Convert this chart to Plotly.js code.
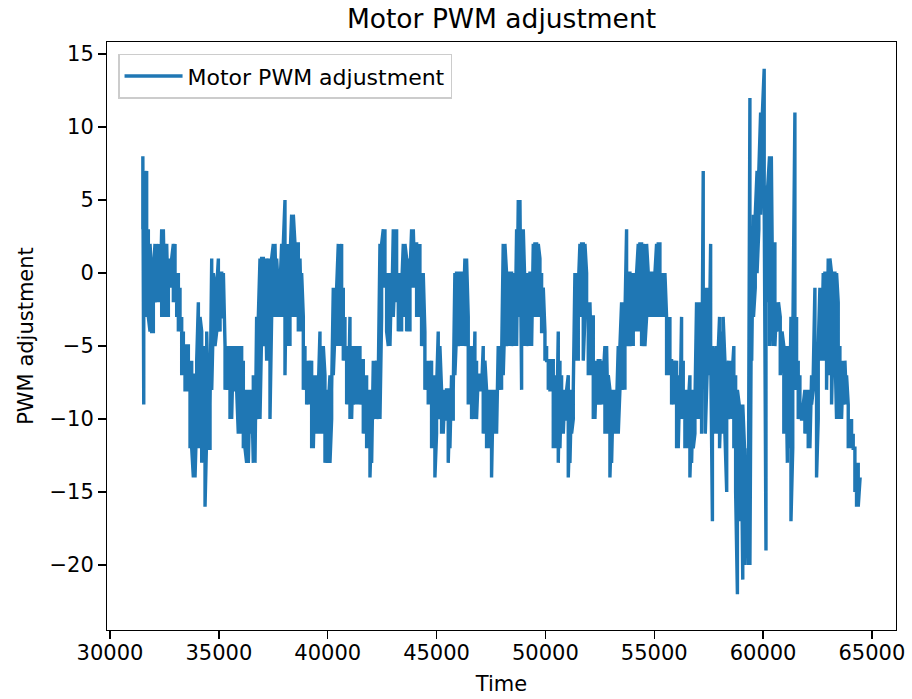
<!DOCTYPE html>
<html>
<head>
<meta charset="utf-8">
<script src="https://cdn.plot.ly/plotly-3.0.1.min.js"></script>
<style>html,body{margin:0;padding:0;background:#fff;}#chart{width:912px;height:699px;}</style>
</head>
<body>
<div id="chart"></div>
<script>
// Sample times (each time carries two consecutive readings)
const bucketTime = [
31509,31550,31608,31684,31761,31838,31914,31991,32067,32144,32221,32297,32374,32450,32527,32604,32680,32757,32833,32910,
32987,33063,33140,33216,33293,33370,33446,33523,33599,33676,33753,33829,33906,33982,34059,34136,34212,34289,34365,34442,
34519,34595,34672,34748,34825,34902,34978,35055,35131,35208,35285,35361,35438,
35512,35588,35665,35741,35818,35894,35971,36048,36124,36201,36277,36354,36430,36507,36583,36660,36736,36813,36890,36966,
37043,37119,37196,37272,37349,37425,37502,37579,37655,37732,37808,37885,37961,38038,38114,38191,38267,38344,38421,38497,
38574,38650,38727,38803,38880,38956,39033,39110,39186,39263,39339,39416,39492,39569,39645,39722,39798,
39875,39951,40028,40104,40181,40257,40334,40411,40487,40564,40640,40717,40793,40870,40946,41023,41099,41176,41253,41329,
41406,41482,41559,41635,41712,41788,41865,41942,42018,42095,42171,42248,42324,42401,42477,42554,42630,42707,42784,42860,
42937,43013,43090,43166,43243,43319,43396,43473,43549,43626,43702,43779,43855,43932,44008,44085,44161,
44236,44312,44389,44465,44542,44618,44695,44772,44848,44925,45001,45078,45154,45231,45307,45384,45460,45537,45614,45690,
45767,45843,45920,45996,46073,46149,46226,46303,46379,46456,46532,46609,46685,46762,46838,46915,46991,47068,47145,47221,
47298,47374,47451,47527,47604,47680,47757,47834,47910,47987,48063,48140,48216,48293,48369,48446,48522,
48602,48678,48755,48831,48908,48984,49061,49138,49214,49291,49367,49444,49520,49597,49673,49750,49826,49903,49980,50056,
50133,50209,50286,50362,50439,50515,50592,50669,50745,50822,50898,50975,51051,51128,51204,51281,51357,51434,51511,51587,
51664,51740,51817,51893,51970,52046,52123,52200,52276,52353,52429,52506,52582,52659,52735,52812,52888,
52965,53041,53118,53194,53271,53347,53424,53501,53577,53654,53730,53807,53883,53960,54036,54113,54189,54266,54343,54419,
54496,54572,54649,54725,54802,54878,54955,55032,55108,55185,55261,55338,55414,55491,55567,55644,55720,55797,55874,55950,
56027,56103,56180,56256,56333,56409,56486,56563,56639,56716,56792,56869,56945,57022,57098,57175,57251,
57345,57427,57509,57591,57673,57755,57837,57919,58001,58083,58165,58247,58329,58411,58493,58575,58657,58739,58821,58903,
58985,59067,59149,59231,59313,59395,59477,59559,59641,59723,59805,59887,59969,60051,60133,60215,60297,60379,60461,60543,
60625,60707,60789,60871,60953,61035,61117,61199,61281,61363,
61462,61539,61615,61692,61768,61845,61921,61998,62074,62151,62228,62304,62381,62457,62534,62610,62687,62763,62840,62916,
62993,63070,63146,63223,63299,63376,63452,63529,63605,63682,63759,63835,63912,63988,64065,64141,64218,64294,64371,64458
];
const pwmFirst = [
3,-9,-3,7,3,-4,0,-4,2,-1,-2,-1,3,-2,-3,-3,-3,-1,-1,2,
2,-1,0,-1,-3,-4,-5,-8,-5,-7,-6,-14,-7,-10,-2,-9,-4,-5,-8,-11,
-9,-12,1,-3,-1,-4,1,-4,0,-3,-5,-7,-6,
-5,-6,-5,-8,-6,-11,-8,-5,-6,-8,-13,-9,-8,-10,-13,-9,-3,-8,1,-4,
1,-2,-6,0,1,-3,2,-1,-3,-1,-2,2,-1,5,2,-1,-5,4,0,2,
-1,2,-2,-4,-3,-5,-6,-8,-9,-6,-9,-7,-9,-11,-4,-7,-11,
-7,-8,-13,-7,-10,-1,-4,-5,2,-1,2,-1,-3,-5,-7,-3,-5,-5,-8,-9,
-7,-5,-8,-6,-9,-7,-10,-8,-10,-6,-8,-6,-10,2,-3,3,3,0,-5,-2,
0,3,0,3,0,-2,-4,2,0,1,-2,-4,3,0,-1,2,-2,
2,0,-3,-4,-6,-6,-7,-6,-9,-7,-11,-4,-8,-8,-9,-8,-10,-8,-9,-7,
-10,0,-4,0,-3,-5,0,1,-2,-3,-5,-5,-8,-4,-6,-7,-8,-7,-5,-9,
-8,-10,-8,-10,-8,-10,-8,-5,-7,-8,2,-3,0,-3,-5,0,-2,
-1,3,5,-3,-8,-5,-1,0,-3,-5,0,2,-1,2,-2,1,0,-4,-4,-5,
-6,-7,-8,-6,-9,-7,-4,-6,-7,-9,-8,-10,-7,-10,-8,-10,0,-4,-6,2,
-1,2,-3,0,-2,-5,-7,-3,-7,-6,-8,-6,-8,-9,-5,-8,-11,
-8,-10,-8,-10,-11,-5,-8,-2,-5,-8,3,-2,0,-3,-5,0,-2,2,-1,2,
-2,1,-3,0,-2,-3,0,-1,2,-1,2,0,-2,-3,-3,-5,-3,-6,-8,-9,
-6,-9,-7,-3,-6,-8,-10,-12,-7,-10,-8,-11,-2,-6,-10,-2,7,
-1,-7,-3,2,-17,-8,-5,-11,-3,-8,-11,-6,-15,-6,-9,-10,-5,-7,-22,-9,
-12,-21,-12,-14,-12,12,2,4,-1,7,3,11,8,14,-19,-2,8,1,-5,2,
-2,-3,-3,-5,-5,-8,-13,-7,-3,-12,
11,-3,-6,-7,-9,-10,-8,-9,-8,-10,-7,-8,-1,-7,-10,-1,-3,0,-3,0,
1,-2,0,-4,0,-10,-2,-5,-7,-6,-8,-9,-9,-10,-10,-11,-12,-14,-13,-14
];
const pwmSecond = [
8,7,3,-3,-3,2,-4,0,-2,2,2,-2,-3,3,2,2,1,1,1,-2,
-2,-3,-4,-4,-7,-7,-8,-5,-8,-12,-12,-7,-14,-6,-12,-3,-13,-13,-16,-4,
-12,-9,-8,0,-5,-1,-3,0,-3,0,-8,-5,-8,
-10,-10,-8,-5,-8,-5,-11,-8,-12,-12,-8,-13,-11,-8,-7,-13,-10,-3,-10,1,
-5,1,1,-5,-10,1,-3,2,1,-3,-1,-3,2,-7,-5,2,1,-3,4,-3,
2,-4,1,0,-8,-8,-9,-6,-7,-12,-12,-11,-7,-8,-11,-9,-5,
-13,-12,-9,-13,-8,-7,-1,-1,-5,-4,-5,-6,-6,-9,-9,-10,-10,-9,-6,-5,
-9,-9,-6,-11,-11,-12,-12,-14,-13,-10,-10,-9,-7,-10,2,-1,-1,-4,0,-5,
-3,-3,-2,-1,-4,0,-1,-3,2,-4,1,0,-1,3,2,-3,1,
-3,-5,0,-8,-8,-9,-9,-12,-12,-14,-8,-10,-5,-11,-11,-10,-8,-13,-12,-10,
-8,-7,0,-5,0,0,-3,-5,1,-9,-9,-10,-10,-10,-10,-8,-7,-8,-11,-6,
-12,-12,-11,-14,-11,-9,-11,-8,-5,-6,-7,2,-5,0,0,-5,0,
-5,-5,-1,5,3,3,-5,-5,0,0,-5,-3,2,-3,2,-3,-4,-1,-6,-6,
-8,-8,-6,-12,-12,-11,-13,-12,-11,-11,-10,-8,-14,-13,-11,-8,-6,0,-1,-3,
2,-6,2,-3,-7,-2,-3,-10,-10,-9,-6,-9,-6,-7,-11,-5,-7,
-14,-13,-11,-8,-9,-11,-5,-8,-2,-3,-5,0,-5,0,-1,-4,0,-4,2,-5,
2,-5,2,-3,0,0,-3,0,-3,2,-3,-3,0,0,-7,-7,-6,-9,-6,-7,
-12,-12,-10,-10,-10,-12,-8,-9,-14,-13,-12,-9,-10,-2,-5,-11,-6,
-11,-1,-7,-5,-5,-11,-10,-6,-12,-4,-3,-11,-7,-10,-6,-7,-12,-15,-8,-17,
-9,-9,-20,-18,-20,-20,-6,-3,4,0,7,4,11,5,6,6,-5,8,2,-5,
-4,-2,-7,-4,-11,-5,-5,-12,-17,-5,
-8,-8,-10,-10,-10,-9,-11,-11,-12,-12,-9,-7,-8,-14,-5,-6,-6,-6,0,-8,
-7,1,-9,0,-5,0,-10,-10,-10,-9,-6,-7,-12,-12,-12,-12,-15,-16,-16,-14
];

const xTickVals = [30000,35000,40000,45000,50000,55000,60000,65000];
const xTickText = ['30000','35000','40000','45000','50000','55000','60000','65000'];
const yTickVals = [-20,-15,-10,-5,0,5,10,15];
const yTickText = ['\u221220','\u221215','\u221210','\u22125','0','5','10','15'];

const xs = [], ys = [];
bucketTime.forEach(function(t, i){
  xs.push(t, t);
  ys.push(pwmFirst[i], pwmSecond[i]);
});

const trace = {
  x: xs, y: ys, type: 'scatter', mode: 'lines',
  name: 'Motor PWM adjustment',
  line: {color: '#1f77b4', width: 3.4}
};

const font = 'DejaVu Sans, sans-serif';
const layout = {
  width: 912, height: 699,
  margin: {l: 107, r: 16, t: 42, b: 69, pad: 0},
  paper_bgcolor: '#ffffff', plot_bgcolor: '#ffffff',
  font: {family: font, size: 21, color: '#000000'},
  title: {text: 'Motor PWM adjustment', font: {family: font, size: 26.5, color: '#000000'},
          x: 0.5, xref: 'paper', xanchor: 'center', y: 1 - 19/699, yref: 'container', yanchor: 'middle'},
  showlegend: true,
  legend: {x: 0.014, y: 0.98, xanchor: 'left', yanchor: 'top', bgcolor: 'rgba(255,255,255,0.8)',
           bordercolor: '#cccccc', borderwidth: 1.5, itemwidth: 58,
           font: {family: font, size: 22, color: '#000000'}},
  xaxis: {
    range: [29862, 66106], autorange: false,
    tickmode: 'array', tickvals: xTickVals, ticktext: xTickText,
    ticks: 'outside', ticklen: 7.7, tickwidth: 1.3, tickcolor: '#000000',
    showline: true, mirror: true, linecolor: '#000000', linewidth: 1.3,
    showgrid: false, zeroline: false, ticklabelstandoff: -4,
    tickfont: {family: font, size: 21, color: '#000000'},
    title: {text: 'Time', font: {family: font, size: 21, color: '#000000'}, standoff: 12}
  },
  yaxis: {
    range: [-24.45, 15.83], autorange: false,
    tickmode: 'array', tickvals: yTickVals, ticktext: yTickText,
    ticks: 'outside', ticklen: 7.7, tickwidth: 1.3, tickcolor: '#000000',
    showline: true, mirror: true, linecolor: '#000000', linewidth: 1.3,
    showgrid: false, zeroline: false,
    tickfont: {family: font, size: 21, color: '#000000'},
    title: {text: 'PWM adjustment', font: {family: font, size: 21, color: '#000000'}, standoff: 10}
  }
};

Plotly.newPlot('chart', [trace], layout, {displayModeBar: false, staticPlot: true});
</script>
</body>
</html>
